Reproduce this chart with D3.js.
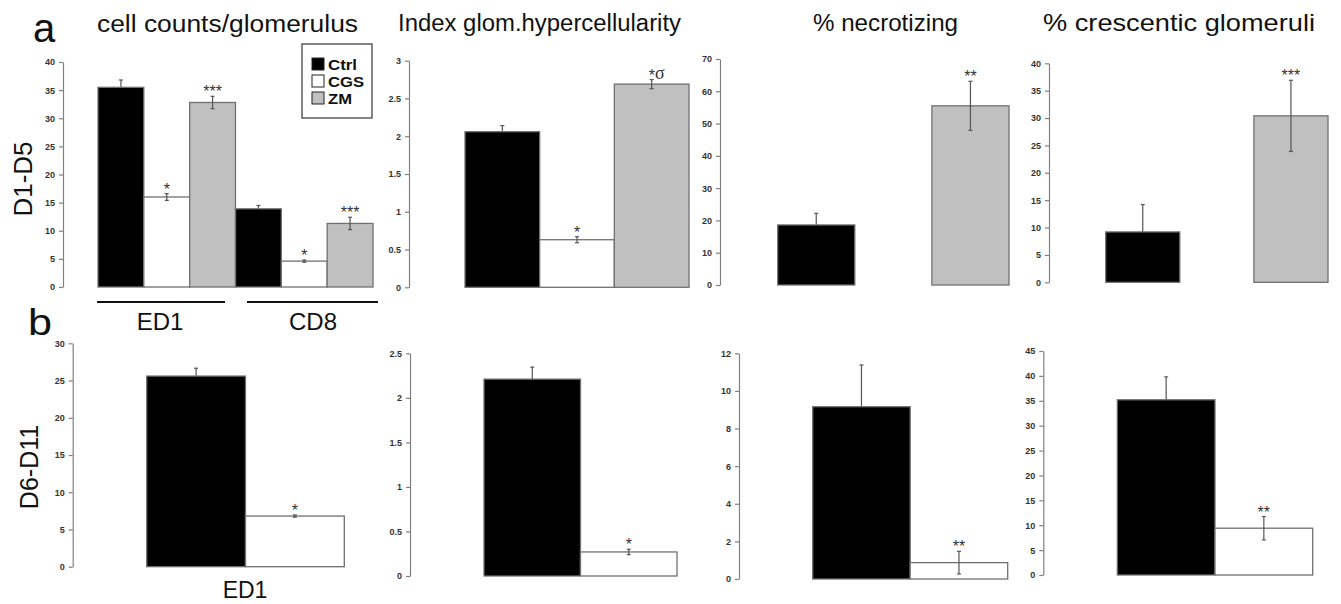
<!DOCTYPE html>
<html>
<head>
<meta charset="utf-8">
<script src="https://cdn.jsdelivr.net/npm/d3@7"></script>
<style>
  html, body { margin: 0; padding: 0; background: #fff; }
  svg { display: block; font-family: "Liberation Sans", Arial, Helvetica, sans-serif; }
</style>
</head>
<body>
<svg id="chart" width="1341" height="604"></svg>
<script>
// ---------------- DATA ----------------
const groups = ["Ctrl", "CGS", "ZM"];
const markers = ["ED1", "CD8"];
const panelTitles = ["cell counts/glomerulus", "Index glom.hypercellularity", "% necrotizing", "% crescentic glomeruli"];
const rowLabels = ["D1-D5", "D6-D11"];

// Row a: D1-D5 (Ctrl, CGS, ZM)
const cellED1_D1D5 = [35.5, 16.0, 32.8];
const cellED1_D1D5Err = [1.3, 0.6, 1.1];
const cellED1_D1D5Sig = ["", "*", "***"];
const cellCD8_D1D5 = [13.9, 4.6, 11.3];
const cellCD8_D1D5Err = [0.6, 0.2, 1.1];
const cellCD8_D1D5Sig = ["", "*", "***"];
const hyper_D1D5 = [2.06, 0.63, 2.69];
const hyper_D1D5Err = [0.08, 0.04, 0.06];
const hyper_D1D5Sig = ["", "*", "*σ"];
const necro_D1D5 = [18.6, 0, 55.5];
const necro_D1D5Err = [3.6, 0, 7.6];
const necro_D1D5Sig = ["", "", "**"];
const cresc_D1D5 = [9.2, 0, 30.4];
const cresc_D1D5Err = [5.0, 0, 6.5];
const cresc_D1D5Sig = ["", "", "***"];

// Row b: D6-D11 (Ctrl, CGS)
const cellED1_D6D11 = [25.6, 6.8];
const cellED1_D6D11Err = [1.05, 0.15];
const cellED1_D6D11Sig = ["", "*"];
const hyper_D6D11 = [2.21, 0.27];
const hyper_D6D11Err = [0.135, 0.03];
const hyper_D6D11Sig = ["", "*"];
const necro_D6D11 = [9.16, 0.87];
const necro_D6D11Err = [2.22, 0.6];
const necro_D6D11Sig = ["", "**"];
const cresc_D6D11 = [35.2, 9.4];
const cresc_D6D11Err = [4.6, 2.35];
const cresc_D6D11Sig = ["", "**"];

// Axis maxima / steps
const topMax = [40, 3, 70, 40];
const topStep = [5, 0.5, 10, 5];
const bottomMax = [30, 2.5, 12, 45];
const bottomStep = [5, 0.5, 2, 5];

// ---------------- STYLE / LAYOUT ----------------
const fills = { Ctrl: "#000000", CGS: "#ffffff", ZM: "#c0c0c0" };
const barStroke = "#707070";
const axisColor = "#808080";
const textDark = "#333333";
const errColor = "#555555";

const svg = d3.select("#chart");

function bars(values, errs, sigs, grpNames) {
  return values.map((v, i) => ({ group: grpNames[i], value: v, err: errs[i], sig: sigs[i] }));
}

const layoutTop = [
  { axisX: 63, y0: 287, yTop: 62, bx0: 98, bx1: 373 },
  { axisX: 409, y0: 287.3, yTop: 60.7, bx0: 465, bx1: 689 },
  { axisX: 720, y0: 285, yTop: 59, bx0: 777.7, bx1: 1009 },
  { axisX: 1049, y0: 282.3, yTop: 63.3, bx0: 1105.7, bx1: 1328 }
];
const layoutBottom = [
  { axisX: 72.7, y0: 566.7, yTop: 343.3, bx0: 146.7, bx1: 344.3 },
  { axisX: 410, y0: 576, yTop: 353.3, bx0: 484, bx1: 677 },
  { axisX: 739, y0: 579, yTop: 353.3, bx0: 812.7, bx1: 1007.7 },
  { axisX: 1043.3, y0: 575, yTop: 351, bx0: 1117.3, bx1: 1312.7 }
];

const g2 = groups.slice(0, 2);
const topPanels = [
  { clusters: [
      { name: markers[0], bars: bars(cellED1_D1D5, cellED1_D1D5Err, cellED1_D1D5Sig, groups) },
      { name: markers[1], bars: bars(cellCD8_D1D5, cellCD8_D1D5Err, cellCD8_D1D5Sig, groups) } ] },
  { clusters: [{ name: "x", bars: bars(hyper_D1D5, hyper_D1D5Err, hyper_D1D5Sig, groups) }] },
  { clusters: [{ name: "x", bars: bars(necro_D1D5, necro_D1D5Err, necro_D1D5Sig, groups) }] },
  { clusters: [{ name: "x", bars: bars(cresc_D1D5, cresc_D1D5Err, cresc_D1D5Sig, groups) }] }
];
const bottomPanels = [
  { clusters: [{ name: markers[0], bars: bars(cellED1_D6D11, cellED1_D6D11Err, cellED1_D6D11Sig, g2) }] },
  { clusters: [{ name: "x", bars: bars(hyper_D6D11, hyper_D6D11Err, hyper_D6D11Sig, g2) }] },
  { clusters: [{ name: "x", bars: bars(necro_D6D11, necro_D6D11Err, necro_D6D11Sig, g2) }] },
  { clusters: [{ name: "x", bars: bars(cresc_D6D11, cresc_D6D11Err, cresc_D6D11Sig, g2) }] }
];

function drawPanel(panel, lay, yMax, yStep) {
  const g = svg.append("g");
  const y = d3.scaleLinear().domain([0, yMax]).range([lay.y0, lay.yTop]);
  const outer = d3.scaleBand().domain(panel.clusters.map(c => c.name)).range([lay.bx0, lay.bx1]).padding(0);
  const inner = d3.scaleBand().domain(panel.clusters[0].bars.map(b => b.group)).range([0, outer.bandwidth()]).padding(0);

  const ticks = d3.range(0, yMax + yStep / 2, yStep);
  const axis = d3.axisLeft(y).tickValues(ticks).tickSize(4).tickSizeOuter(0).tickPadding(4).tickFormat(d3.format("~g"));
  const ag = g.append("g").attr("transform", `translate(${lay.axisX},0)`).call(axis);
  ag.select(".domain").attr("stroke", axisColor).attr("stroke-width", 1.2);
  ag.selectAll(".tick line").attr("stroke", axisColor).attr("stroke-width", 1.2);
  ag.selectAll(".tick text").attr("fill", textDark).attr("font-size", 9).attr("font-weight", "bold")
    .attr("font-family", "'Liberation Sans', Arial, sans-serif");

  const all = [];
  panel.clusters.forEach(c => c.bars.forEach(b => {
    all.push({ ...b, x: outer(c.name) + inner(b.group), w: inner.bandwidth() });
  }));

  const errLine = (sel) => {
    sel.each(function (d) {
      if (!d.err) return;
      const e = d3.select(this);
      const cx = d.x + d.w / 2;
      const yt = y(d.value + d.err), yb = y(d.value - d.err);
      e.append("line").attr("x1", cx).attr("x2", cx).attr("y1", yt).attr("y2", yb);
      e.append("line").attr("x1", cx - 2).attr("x2", cx + 2).attr("y1", yt).attr("y2", yt);
      e.append("line").attr("x1", cx - 2).attr("x2", cx + 2).attr("y1", yb).attr("y2", yb);
    });
  };

  g.append("g").attr("stroke", errColor).attr("stroke-width", 1.2)
    .selectAll("g").data(all.filter(d => d.group === "Ctrl")).join("g").call(errLine);

  g.append("g").selectAll("rect").data(all).join("rect")
    .attr("x", d => d.x).attr("width", d => d.w)
    .attr("y", d => y(d.value)).attr("height", d => y(0) - y(d.value))
    .attr("fill", d => fills[d.group])
    .attr("stroke", barStroke).attr("stroke-width", 1.3);

  g.append("g").attr("stroke", errColor).attr("stroke-width", 1.2)
    .selectAll("g").data(all.filter(d => d.group !== "Ctrl")).join("g").call(errLine);

  all.filter(d => d.sig).forEach(d => {
    const cx = d.x + d.w / 2;
    const yb = y(d.value + d.err) + 1;
    const t = g.append("text").attr("x", cx).attr("y", yb).attr("text-anchor", "middle")
      .attr("fill", textDark).attr("font-size", 16).attr("font-family", "'Liberation Sans', Arial, sans-serif");
    if (d.sig.includes("σ")) {
      t.attr("x", cx + 5);
      t.append("tspan").text("*");
      t.append("tspan").attr("font-size", 18).attr("dy", -1.5).attr("font-family", "'Liberation Serif', 'Times New Roman', serif").text("σ");
    } else {
      t.text(d.sig);
    }
  });
}

topPanels.forEach((p, i) => drawPanel(p, layoutTop[i], topMax[i], topStep[i]));
bottomPanels.forEach((p, i) => drawPanel(p, layoutBottom[i], bottomMax[i], bottomStep[i]));

// ---------------- TITLES / LABELS ----------------
const titleGeom = [
  { x: 97, w: 261, base: 32, size: 23 },
  { x: 398, w: 283, base: 31, size: 23 },
  { x: 813, w: 145, base: 31, size: 24 },
  { x: 1043, w: 272, base: 31, size: 24 }
];
panelTitles.forEach((t, i) => {
  const tg = titleGeom[i];
  svg.append("text").attr("x", tg.x).attr("y", tg.base).attr("font-size", tg.size)
    .attr("textLength", tg.w).attr("lengthAdjust", "spacingAndGlyphs").attr("fill", "#111").text(t);
});

svg.append("text").attr("x", 33).attr("y", 42).attr("font-size", 40).attr("fill", "#111").text("a");
svg.append("text").attr("x", 28).attr("y", 335).attr("font-size", 36).attr("fill", "#111")
  .attr("textLength", 24).attr("lengthAdjust", "spacingAndGlyphs").text("b");

svg.append("text").attr("transform", "translate(32,179) rotate(-90)").attr("text-anchor", "middle")
  .attr("font-size", 26).attr("fill", "#111").text(rowLabels[0]);
svg.append("text").attr("transform", "translate(38,467) rotate(-90)").attr("text-anchor", "middle")
  .attr("font-size", 25).attr("fill", "#111").text(rowLabels[1]);

const underline = [{ x1: 97, x2: 225, cx: 160 }, { x1: 247, x2: 378, cx: 313 }];
markers.forEach((m, i) => {
  const u = underline[i];
  svg.append("line").attr("x1", u.x1).attr("x2", u.x2).attr("y1", 302).attr("y2", 302)
    .attr("stroke", "#111").attr("stroke-width", 2);
  svg.append("text").attr("x", u.cx).attr("y", 330).attr("text-anchor", "middle")
    .attr("font-size", 24).attr("fill", "#111").text(m);
});
svg.append("text").attr("x", 245).attr("y", 598).attr("text-anchor", "middle")
  .attr("font-size", 23).attr("fill", "#111").text(markers[0]);

const legendWidths = [29, 36, 24];
const leg = svg.append("g");
leg.append("rect").attr("x", 302).attr("y", 44).attr("width", 70).attr("height", 74)
  .attr("fill", "#fff").attr("stroke", "#444").attr("stroke-width", 1.3);
groups.forEach((gname, i) => {
  const cy = 64 + i * 17;
  leg.append("rect").attr("x", 312).attr("y", cy - 6).attr("width", 12).attr("height", 12)
    .attr("fill", fills[gname]).attr("stroke", "#222").attr("stroke-width", 1);
  leg.append("text").attr("x", 328).attr("y", cy + 5.5).attr("font-size", 14.5).attr("font-weight", "bold")
    .attr("textLength", legendWidths[i]).attr("lengthAdjust", "spacingAndGlyphs")
    .attr("fill", "#111").text(gname);
});
</script>
</body>
</html>
